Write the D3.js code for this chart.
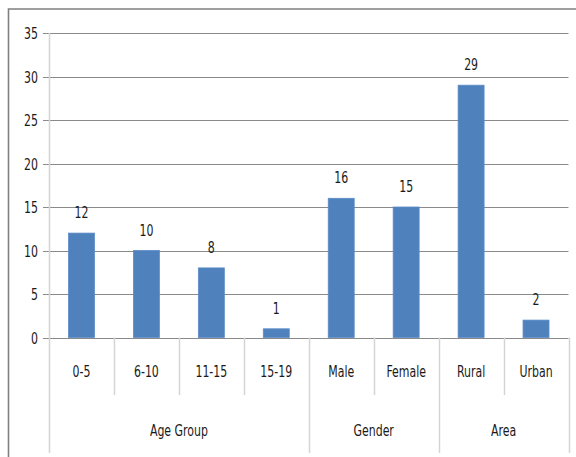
<!DOCTYPE html>
<html>
<head>
<meta charset="utf-8">
<script src="https://cdn.jsdelivr.net/npm/d3@7"></script>
<style>
  html, body { margin: 0; padding: 0; background: #fff; }
  svg text { font-family: "DejaVu Sans Condensed", "Liberation Sans Narrow", sans-serif; fill: #1a1a1a; }
</style>
</head>
<body>
<svg id="chart" width="576" height="457"></svg>
<script>
// Cases by category, grouped into Age Group / Gender / Area
const categories = ["0-5", "6-10", "11-15", "15-19", "Male", "Female", "Rural", "Urban"];
const values = [12, 10, 8, 1, 16, 15, 29, 2];
const groups = ["Age Group", "Gender", "Area"];
const groupSizes = [4, 2, 2];
const yTicks = [0, 5, 10, 15, 20, 25, 30, 35];

const svg = d3.select("#chart");
const plotLeft = 49, plotRight = 568.5, plotTop = 33, plotBottom = 337.5, axisBottom = 453;
const fontSize = 14.5, scaleX = 0.84, scaleY = 1.12;

const x = d3.scaleBand().domain(categories).range([plotLeft, plotRight]).paddingInner(0.6).paddingOuter(0.3);
const xStep = d3.scaleBand().domain(categories).range([plotLeft, plotRight]);
const y = d3.scaleLinear().domain([0, 35]).range([plotBottom, plotTop]);

// outer chart frame
svg.append("path")
  .attr("d", `M8.5,460 V9 H580`)
  .attr("fill", "none").attr("stroke", "#808080").attr("stroke-width", 1.6);

// helper: narrow, slightly tall text
function label(g, tx, ty, txt, anchor) {
  g.append("text")
    .attr("transform", `translate(${tx},${ty}) scale(${scaleX},${scaleY})`)
    .attr("text-anchor", anchor || "middle")
    .style("font-size", fontSize + "px")
    .text(txt);
}

// horizontal gridlines
svg.append("g").selectAll("line").data(yTicks).join("line")
  .attr("x1", plotLeft - 6).attr("x2", plotRight)
  .attr("y1", d => Math.round(y(d)) + 0.5).attr("y2", d => Math.round(y(d)) + 0.5)
  .attr("stroke", "#8a8a8a").attr("stroke-width", 1);

// y tick labels
const yl = svg.append("g");
yTicks.forEach(t => label(yl, 38, Math.round(y(t)) + 6, t, "end"));

// vertical axis line
svg.append("line")
  .attr("x1", plotLeft + 0.5).attr("x2", plotLeft + 0.5).attr("y1", plotTop).attr("y2", axisBottom)
  .attr("stroke", "#d4d4d4").attr("stroke-width", 1.5);

// category separators (short) and group separators (long)
let idx = 0;
const groupBounds = [0];
groupSizes.forEach(s => { idx += s; groupBounds.push(idx); });
const sep = svg.append("g");
for (let i = 1; i <= categories.length; i++) {
  const xp = i < categories.length ? xStep(categories[i]) : plotRight;
  const isGroup = groupBounds.includes(i);
  sep.append("line")
    .attr("x1", Math.round(xp) + 0.5).attr("x2", Math.round(xp) + 0.5)
    .attr("y1", plotBottom).attr("y2", isGroup ? axisBottom : 395)
    .attr("stroke", "#d4d4d4").attr("stroke-width", 1.5);
}

// bars
svg.append("g").selectAll("rect").data(values).join("rect")
  .attr("x", (d, i) => x(categories[i]))
  .attr("width", x.bandwidth())
  .attr("y", d => y(d))
  .attr("height", d => plotBottom - y(d))
  .attr("fill", "#4f81bd")
  .attr("stroke", "#5b8cc8").attr("stroke-width", 0.8);

// value labels
const vl = svg.append("g");
values.forEach((v, i) => label(vl, x(categories[i]) + x.bandwidth() / 2, y(v) - 15, v));

// category labels
const cl = svg.append("g");
categories.forEach(c => label(cl, xStep(c) + xStep.step() / 2, 377, c));

// group labels
const gl = svg.append("g");
groups.forEach((g, i) => {
  const a = groupBounds[i], b = groupBounds[i + 1];
  const x0 = xStep(categories[a]);
  const x1 = b < categories.length ? xStep(categories[b]) : plotRight;
  label(gl, (x0 + x1) / 2, 436, g);
});
</script>
</body>
</html>
